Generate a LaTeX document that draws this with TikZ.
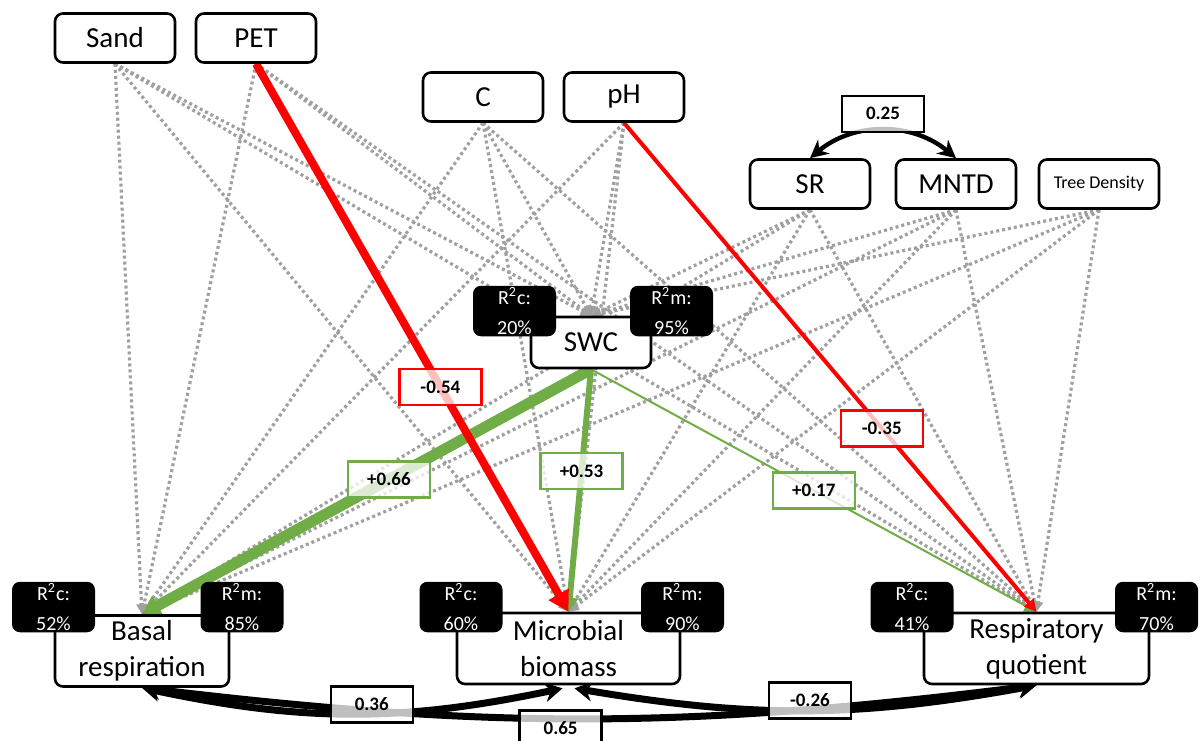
\documentclass[tikz,border=0pt]{standalone}
\usepackage{fontspec}
\setmainfont{Carlito}
\usetikzlibrary{arrows.meta,calc,backgrounds}
\definecolor{negred}{RGB}{255,0,0}
\definecolor{posgreen}{RGB}{112,173,71}
\definecolor{nsgray}{RGB}{160,160,160}

\begin{document}
\begin{tikzpicture}[x=0.5pt, y=-0.5pt,
  var/.style={draw, rounded corners=4pt, line width=1.3pt, fill=white,
    minimum width=60pt, minimum height=24.5pt, inner sep=1pt,
    font=\fontsize{14.5}{18}\selectfont},
  resp/.style={var, minimum height=35.5pt, align=center},
  rsq/.style={fill=black, text=white, rounded corners=4pt, minimum width=41.5pt,
    minimum height=24.5pt, inner sep=1pt, align=center,
    font=\fontsize{10}{15}\selectfont},
  coef/.style={draw=#1, text=black, line width=1.2pt, fill=white, fill opacity=0.75,
    text opacity=1, minimum width=41pt, minimum height=18pt, inner sep=1pt,
    font=\fontsize{9.5}{11}\selectfont\bfseries},
  ns/.style={nsgray, line width=1.6pt, dash pattern=on 1.5pt off 1.5pt,
    -{Triangle[length=5pt,width=5pt]}},
  cov/.style={black, line width=3.5pt,
    {Stealth[length=9pt,width=10pt]}-{Stealth[length=9pt,width=10pt]}}]
  \useasboundingbox (0,0) rectangle (1201,740);
  % predictors
  \node[var] (sand) at (115,38) {Sand};
  \node[var] (pet) at (256,38) {PET};
  \node[var] (c) at (483,97) {C};
  \node[var] (ph) at (624,97) {pH};
  \node[var] (sr) at (810,184) {SR};
  \node[var] (mntd) at (956,184) {MNTD};
  \node[var, font=\fontsize{9}{11}\selectfont] (tree) at (1099,184) {Tree Density};
  % mediator and responses
  \node[var, minimum height=25.5pt] (swc) at (591,342.5) {SWC};
  \node[resp, minimum width=87pt] (basal) at (142,651) {Basal\\respiration};
  \node[resp, minimum width=111.5pt] (micro) at (568.5,648.5) {Microbial\\biomass};
  \node[resp, minimum width=112.5pt] (rq) at (1036.5,648.5) {Respiratory\\quotient};
  % explained variance
  \node[rsq] (swc-c) at (514.5,311) {R\textsuperscript{2}c:\\20\%};
  \node[rsq] (swc-m) at (671.5,311) {R\textsuperscript{2}m:\\95\%};
  \node[rsq] (basal-c) at (53.5,607) {R\textsuperscript{2}c:\\52\%};
  \node[rsq] (basal-m) at (242,607) {R\textsuperscript{2}m:\\85\%};
  \node[rsq] (micro-c) at (461,607) {R\textsuperscript{2}c:\\60\%};
  \node[rsq] (micro-m) at (682.5,607) {R\textsuperscript{2}m:\\90\%};
  \node[rsq] (rq-c) at (912,607) {R\textsuperscript{2}c:\\41\%};
  \node[rsq] (rq-m) at (1156.5,607) {R\textsuperscript{2}m:\\70\%};
  \begin{scope}[on background layer]
    % non-significant paths
    \foreach \s/\t in {sand/swc, sand/basal, sand/micro, sand/rq,
        pet/swc, pet/basal, pet/rq, c/swc, c/basal, c/micro, c/rq,
        ph/swc, ph/basal, ph/micro, sr/swc, sr/basal, sr/micro, sr/rq,
        mntd/swc, mntd/basal, mntd/micro, mntd/rq,
        tree/swc, tree/basal, tree/micro, tree/rq}
      \draw[ns] (\s.south) -- (\t.north);
    % significant paths
    \draw[posgreen, line width=5.5pt, -{Triangle[length=9pt,width=11pt]}]
      (swc.south) -- node[coef=posgreen, pos=0.45] {+0.66} (basal.north);
    \draw[posgreen, line width=3pt, -{Triangle[length=7pt,width=8pt]}]
      (swc.south) -- node[coef=posgreen, pos=0.42] {+0.53} (micro.north);
    \draw[posgreen, line width=1pt, -{Triangle[length=6pt,width=6pt]}]
      (swc.south) -- node[coef=posgreen, pos=0.5] {+0.17} (rq.north);
    \draw[negred, line width=4pt, -{Triangle[length=10pt,width=11pt]}]
      (pet.south) -- node[coef=negred, pos=0.59] {-0.54} (micro.north);
    \draw[negred, line width=2pt, -{Triangle[length=6pt,width=6pt]}]
      (ph.south) -- node[coef=negred, pos=0.625] {-0.35} (rq.north);
    % correlations
    \draw[cov, line width=2.2pt,
        {Stealth[length=9pt,width=9pt]}-{Stealth[length=9pt,width=9pt]}]
      (sr.north) to[bend left=40] node[coef=black, yshift=8.5pt] {0.25} (mntd.north);
    \draw[cov] (basal.south) to[bend right=7]
      node[coef=black, pos=0.465, yshift=-5pt] {0.65} (rq.south);
    \draw[cov] (basal.south) to[bend right=12]
      node[coef=black, pos=0.55, yshift=4.5pt] {0.36} ($(micro.south)+(-6,3)$);
    \draw[cov] ($(micro.south)+(6,3)$) to[bend right=10]
      node[coef=black, pos=0.51, yshift=5pt] {-0.26} (rq.south);
  \end{scope}
\end{tikzpicture}
\end{document}
